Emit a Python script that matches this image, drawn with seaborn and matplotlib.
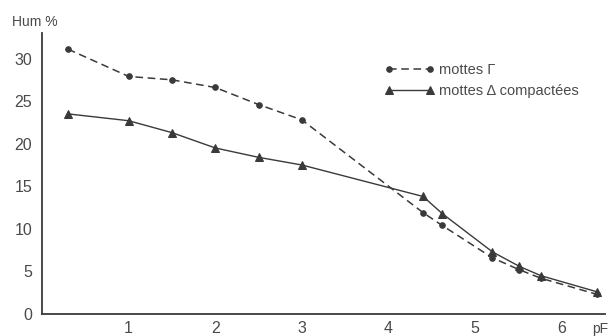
import pandas as pd
import matplotlib
matplotlib.use('Agg')
import matplotlib.pyplot as plt
import seaborn as sns

# Values (pF vs Hum %)
pf_values = [0.3, 1.0, 1.5, 2.0, 2.5, 3.0, 4.4, 4.62, 5.2, 5.51, 5.76, 6.41]
hum_gamma = [31.1, 27.9, 27.5, 26.6, 24.6, 22.8, 11.9, 10.4, 6.6, 5.2, 4.2, 2.3]
hum_delta = [23.5, 22.7, 21.3, 19.5, 18.4, 17.5, 13.8, 11.8, 7.3, 5.6, 4.5, 2.6]
x_ticks = [1, 2, 3, 4, 5, 6]
y_ticks = [0, 5, 10, 15, 20, 25, 30]
label_gamma = 'mottes \u0393'
label_delta = 'mottes \u0394 compactées'

INK = '#3a3a3a'
TEXT = '#4a4a4a'


def build_frame():
    df = pd.DataFrame({'pF': pf_values * 2,
                       'hum': hum_gamma + hum_delta,
                       'serie': [label_gamma] * len(pf_values) + [label_delta] * len(pf_values)})
    return df


def main():
    sns.set_style('white')
    plt.rcParams['font.family'] = ['Liberation Sans', 'DejaVu Sans']

    df = build_frame()

    fig = plt.figure(figsize=(6.10, 3.36), dpi=100)
    ax = fig.add_axes([42 / 610, 22 / 336, 563 / 610, 281 / 336])

    sns.lineplot(data=df[df['serie'] == label_gamma], x='pF', y='hum', ax=ax,
                 color=INK, linewidth=1.1, linestyle=(0, (5, 3)),
                 marker='o', markersize=4, markeredgecolor=INK, label=label_gamma)
    sns.lineplot(data=df[df['serie'] == label_delta], x='pF', y='hum', ax=ax,
                 color=INK, linewidth=1.0, linestyle='-',
                 marker='^', markersize=6, markeredgecolor=INK, label=label_delta)

    ax.set_xlim(0, 6.5)
    ax.set_ylim(0, 33)
    ax.set_xticks(x_ticks)
    ax.set_yticks(y_ticks)
    ax.set_xticklabels([str(t) for t in x_ticks])
    ax.set_yticklabels([str(t) for t in y_ticks])
    ax.set_xlabel('')
    ax.set_ylabel('')

    for side in ['top', 'right']:
        ax.spines[side].set_visible(False)
    for side in ['left', 'bottom']:
        ax.spines[side].set_color(INK)
        ax.spines[side].set_linewidth(1.3)

    ax.tick_params(axis='both', direction='inout', length=8, width=1.1,
                   color=INK, labelcolor=TEXT, labelsize=11.5, pad=3)
    ax.tick_params(axis='x', pad=1)

    fig.text(12 / 610, 1 - 22 / 336, 'Hum %', fontsize=10, color=TEXT, va='center')
    fig.text(592 / 610, 1 - 329 / 336, 'pF', fontsize=10, color=TEXT, va='center')

    leg = ax.legend(loc='upper left', bbox_to_anchor=((385 - 42) / 563, 1 - (63 - 33) / 281),
                    frameon=False, numpoints=2, handlelength=3.4, fontsize=10.5,
                    labelspacing=0.5, handletextpad=0.3, borderaxespad=0, borderpad=0)
    for txt in leg.get_texts():
        txt.set_color(TEXT)

    fig.savefig('out.png', dpi=100)


if __name__ == "__main__":
    main()
